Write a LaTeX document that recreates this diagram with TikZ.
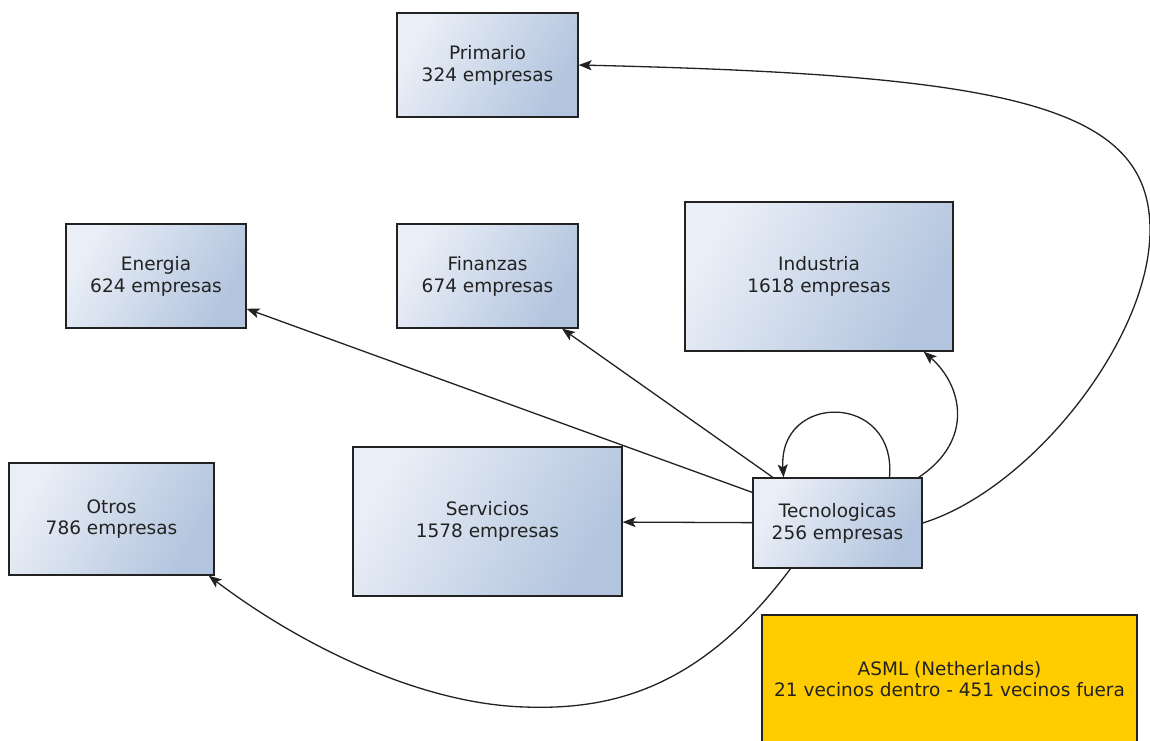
\documentclass[tikz,border=0pt]{standalone}
\usepackage{fontspec}
\setmainfont{DejaVu Sans}
\usetikzlibrary{arrows.meta}
\definecolor{boxlight}{HTML}{EAEFF7}
\definecolor{boxdark}{HTML}{B2C4DE}
\definecolor{edgegray}{HTML}{222222}
\definecolor{asmlyellow}{HTML}{FFCC00}
\definecolor{txt}{HTML}{222222}
\tikzset{
  sector/.style={draw=edgegray, line width=1.3pt, left color=boxlight, right color=boxdark,
    shading angle=60, inner sep=0pt, align=center, text=txt,
    font=\fontsize{18.5}{21.8}\selectfont},
  company/.style={draw=edgegray, line width=1.3pt, fill=asmlyellow, inner sep=0pt,
    align=center, text=txt, font=\fontsize{18.5}{21.8}\selectfont},
  link/.style={draw=edgegray, line width=1.3pt,
    -{Stealth[length=13pt,width=10pt,inset=3pt]}}
}
\begin{document}
\begin{tikzpicture}[x=1pt,y=-1pt]
\useasboundingbox[fill=white] (0,0) rectangle (1150,740);

% sector boxes
\node[sector, minimum width=181pt, minimum height=104pt] (prim) at (487.5,65) {Primario\\324 empresas};
\node[sector, minimum width=180pt, minimum height=104pt] (ener) at (156,276) {Energia\\624 empresas};
\node[sector, minimum width=181pt, minimum height=104pt] (fin) at (487.5,276) {Finanzas\\674 empresas};
\node[sector, minimum width=268pt, minimum height=149pt] (ind) at (819,276.5) {Industria\\1618 empresas};
\node[sector, minimum width=205pt, minimum height=112pt] (otros) at (111.5,519) {Otros\\786 empresas};
\node[sector, minimum width=269pt, minimum height=149pt] (serv) at (487.5,521.5) {Servicios\\1578 empresas};
\node[sector, minimum width=169pt, minimum height=90pt] (tec) at (837.5,523) {Tecnologicas\\256 empresas};

% company box, running off the lower edge
\node[company, minimum width=375pt, minimum height=128pt] (asml) at (949.5,679) {ASML (Netherlands)\\21 vecinos dentro - 451 vecinos fuera};

% links out of the technology sector
\draw[link] (tec) -- (ener);
\draw[link] (tec) -- (fin);
\draw[link] (tec) -- (serv);
\draw[link] ([xshift=52pt]tec.north) .. controls (897,392) and (778,392) .. ([xshift=-54pt]tec.north);
\draw[link] ([xshift=-4pt]tec.north east) .. controls (975,440) and (962,385) .. ([xshift=-30pt]ind.south east);
\draw[link] (tec.east) .. controls (1030,490) and (1150,340) .. (1150,230)
  .. controls (1150,105) and (1010,75) .. (prim.east);
\draw[link] ([xshift=-47pt]tec.south) .. controls (700,690) and (610,710) .. (525,707)
  .. controls (420,704) and (300,645) .. ([xshift=-6pt]otros.south east);
\end{tikzpicture}
\end{document}
